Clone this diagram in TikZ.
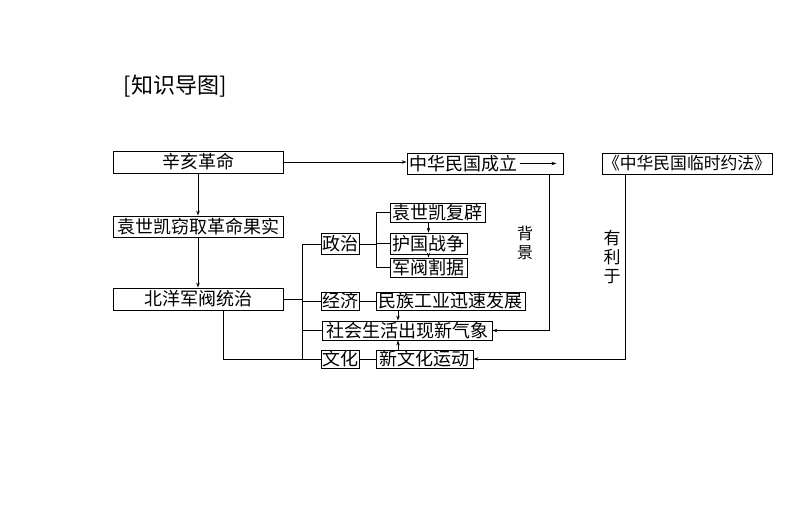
\documentclass[tikz,border=0pt]{standalone}
\usepackage{fontspec}
\newfontfamily\cjk{Noto Sans CJK SC}
\usepackage{tikz}
\usetikzlibrary{arrows.meta, positioning, calc}

\begin{document}
\begin{tikzpicture}[
  x=1pt, y=-1pt,
  box/.style={draw, line width=0.8pt, inner sep=0pt, minimum height=19pt,
              font=\cjk\fontsize{18}{18}\selectfont},
  tag/.style={font=\cjk\fontsize{16}{19}\selectfont, align=center, inner sep=0pt},
  arr/.style={-{Stealth[length=5pt, width=3.5pt]}, line width=0.8pt},
  lnk/.style={line width=0.8pt}
]
  \useasboundingbox (0,0) rectangle (794,522);
  \node[font=\cjk\fontsize{22}{22}\selectfont, inner sep=0pt] (title) at (175,86) {[知识导图]};

  % left column
  \node[box, minimum width=170pt, minimum height=22pt] (xinhai) at (198,162) {辛亥革命};
  \node[box, minimum width=170pt, minimum height=21pt] (yuan) at (198,226.5) {袁世凯窃取革命果实};
  \node[box, minimum width=170pt, minimum height=22pt] (beiyang) at (198,299) {北洋军阀统治};

  % top row
  \node[box, minimum width=156pt, minimum height=21pt] (chengli) at (485,163.5) {};
  \node[box, draw=none, anchor=west] (chengtxt) at ([xshift=2pt]chengli.west) {中华民国成立};
  \coordinate (chengtip) at ([xshift=-7pt]chengli.east);
  \node[box, minimum width=170pt, minimum height=21pt,
        font=\cjk\fontsize{16.8}{18}\selectfont] (yuefa) at (687,163.5) {《中华民国临时约法》};

  % middle column
  \node[box, minimum width=38pt, minimum height=21pt] (zhengzhi) at (340,244) {政治};
  \node[box, minimum width=38pt, minimum height=18pt] (jingji) at (340,301) {经济};
  \node[box, minimum width=38pt, minimum height=18pt] (wenhua) at (340,359) {文化};
  \node[box, minimum width=170pt, minimum height=19pt] (shehui) at (407,330.5) {社会生活出现新气象};

  % right column
  \node[box, minimum width=95pt, minimum height=19pt] (fubi) at (437.5,212.5) {袁世凯复辟};
  \node[box, minimum width=77pt, minimum height=21pt] (huguo) at (428.5,243.5) {护国战争};
  \node[box, minimum width=77pt, minimum height=19pt] (geju) at (428.5,267.5) {军阀割据};
  \node[box, minimum width=149pt, minimum height=18pt] (minzu) at (450.5,301) {民族工业迅速发展};
  \node[box, minimum width=97pt, minimum height=18pt] (xinwen) at (424.5,359) {新文化运动};

  \node[tag] (beijing) at (525,243) {背\\景};
  \node[tag, font=\cjk\fontsize{17}{19}\selectfont] (youli) at (612,257) {有\\利\\于};

  % connectors
  \draw[arr] (xinhai.east) -- (xinhai.east -| chengli.west);
  \draw[arr] ([xshift=3pt]chengtxt.east) -- (chengtip);
  \draw[arr] (xinhai) -- (yuan);
  \draw[arr] (yuan) -- (beiyang);

  \coordinate (bus) at (302,299);
  \draw[lnk] (beiyang.east) -- (bus);
  \draw[lnk] (bus |- zhengzhi.west) -- (bus |- wenhua.west);
  \foreach \n in {zhengzhi, jingji, shehui, wenhua}
    \draw[lnk] (bus |- \n.west) -- (\n.west);
  \draw[lnk] ([xshift=25pt]beiyang.south) |- (wenhua.west);

  \coordinate (fork) at (376,244);
  \draw[lnk] (zhengzhi.east) -- (fork);
  \draw[lnk] (fork |- fubi.west) -- (fork |- geju.west);
  \foreach \n in {fubi, huguo, geju}
    \draw[lnk] (fork |- \n.west) -- (\n.west);
  \draw[arr] (huguo.north |- fubi.south) -- (huguo.north);
  \draw[arr] (huguo) -- (geju);

  \draw[lnk] (jingji) -- (minzu);
  \draw[lnk] (wenhua) -- (xinwen);
  \draw[arr] ([xshift=-9pt]shehui.north |- minzu.south) -- ([xshift=-9pt]shehui.north);
  \draw[arr] ([xshift=-9pt]shehui.south |- xinwen.north) -- ([xshift=-9pt]shehui.south);

  \draw[arr] ([xshift=64pt]chengli.south) |- (shehui.east);
  \draw[arr] ([xshift=-62pt]yuefa.south) |- (xinwen.east);
\end{tikzpicture}
\end{document}
